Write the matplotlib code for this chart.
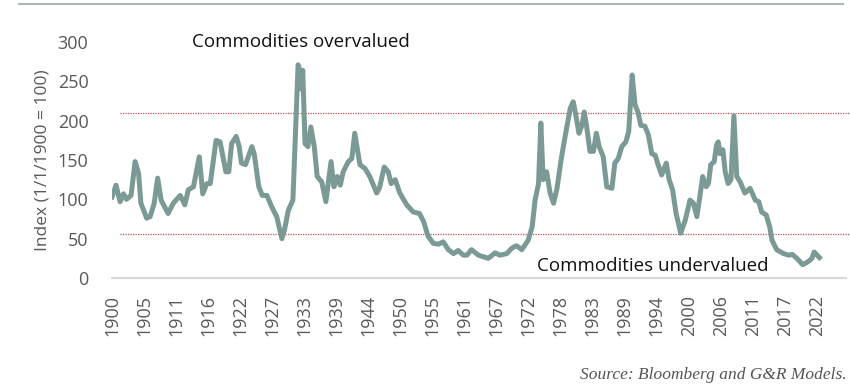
import matplotlib
matplotlib.use("Agg")
import matplotlib.pyplot as plt
from matplotlib.lines import Line2D

# Commodity index vs. 1/1/1900 = 100
years = [1900.0, 1900.7, 1901.4, 1902.0, 1902.5, 1903.3, 1904.0, 1904.6, 1905.0, 1906.0,
         1906.6, 1907.3, 1907.9, 1908.5, 1909.7, 1910.6, 1911.8, 1912.6, 1913.2, 1914.1,
         1915.1, 1915.7, 1916.4, 1917.0, 1918.0, 1918.7, 1919.7, 1920.2, 1920.7, 1921.5,
         1922.0, 1922.4, 1923.1, 1924.2, 1924.6, 1925.4, 1926.0, 1926.8, 1927.6, 1928.5,
         1929.4, 1929.9, 1930.5, 1931.3, 1931.7, 1932.2, 1932.6, 1932.8, 1933.0, 1933.4,
         1933.9, 1934.4, 1935.0, 1935.5, 1936.3, 1937.0, 1937.9, 1938.4, 1939.0, 1939.5,
         1940.0, 1940.9, 1941.5, 1942.0, 1942.9, 1943.8, 1944.6, 1945.8, 1946.3, 1947.1,
         1947.8, 1948.3, 1949.0, 1949.8, 1951.0, 1952.1, 1953.2, 1953.9, 1954.7, 1955.6,
         1956.5, 1957.3, 1958.2, 1959.1, 1959.9, 1960.8, 1961.4, 1962.2, 1963.4, 1965.1,
         1966.3, 1967.1, 1968.3, 1969.2, 1970.0, 1970.9, 1972.0, 1972.7, 1973.2, 1973.8,
         1974.2, 1974.6, 1975.2, 1975.8, 1976.4, 1977.0, 1977.7, 1978.4, 1979.3, 1979.8,
         1980.2, 1980.8, 1981.3, 1981.7, 1982.1, 1982.7, 1983.3, 1983.8, 1984.3, 1985.0,
         1985.6, 1986.5, 1987.0, 1987.6, 1988.2, 1988.9, 1989.4, 1990.0, 1990.5, 1991.0,
         1991.5, 1992.2, 1992.8, 1993.4, 1994.0, 1994.4, 1995.1, 1995.9, 1996.4, 1997.0,
         1997.6, 1998.4, 1999.2, 2000.0, 2000.6, 2001.2, 2001.7, 2002.2, 2002.8, 2003.2,
         2003.6, 2004.2, 2004.6, 2004.9, 2005.2, 2005.7, 2006.1, 2006.6, 2007.1, 2007.6,
         2008.1, 2008.7, 2009.5, 2010.4, 2011.3, 2011.9, 2012.4, 2013.2, 2013.8, 2014.2,
         2015.0, 2016.2, 2017.1, 2017.7, 2018.5, 2019.5, 2020.5, 2021.1, 2021.5, 2022.4]
index = [103, 118, 97, 107, 100, 105, 148, 133, 95, 76,
         78, 95, 127, 99, 82, 95, 105, 93, 112, 116,
         154, 107, 120, 120, 175, 173, 135, 135, 171, 180,
         167, 146, 144, 167, 158, 116, 105, 105, 91, 78,
         50, 63, 86, 99, 175, 271, 262, 240, 264, 171,
         167, 192, 167, 129, 122, 97, 148, 116, 129, 118,
         135, 148, 152, 184, 144, 139, 129, 108, 115, 141,
         135, 120, 125, 108, 93, 84, 82, 72, 53, 44,
         43, 46, 36, 31, 35, 29, 29, 36, 29, 25,
         32, 29, 31, 38, 41, 36, 48, 65, 99, 120,
         197, 125, 135, 108, 95, 114, 150, 180, 216, 224,
         209, 184, 194, 211, 194, 161, 161, 184, 167, 154,
         116, 114, 146, 152, 167, 173, 186, 258, 220, 211,
         194, 193, 182, 158, 156, 146, 131, 146, 125, 112,
         82, 57, 74, 99, 95, 78, 103, 129, 116, 120,
         144, 148, 169, 173, 158, 163, 135, 120, 125, 206,
         129, 122, 108, 114, 99, 97, 84, 80, 65, 48,
         36, 31, 29, 30, 25, 17, 21, 25, 33, 26]

tick_labels = ["1900", "1905", "1911", "1916", "1922", "1927", "1933", "1939", "1944",
               "1950", "1955", "1961", "1967", "1972", "1978", "1983", "1989", "1994",
               "2000", "2006", "2011", "2017", "2022"]
overvalued_level = 210
undervalued_level = 56

plt.rcParams["font.family"] = ["Open Sans", "DejaVu Sans"]

fig = plt.figure(figsize=(8.5, 3.91), dpi=100)
ax = fig.add_axes([112 / 850, 1 - 278 / 391, (846 - 112) / 850, (278 - 42) / 391])

# red dotted guide lines
ax.axhline(overvalued_level, xmin=0.011, xmax=1.01, color="#c0504d", lw=0.9,
           ls=(0, (1, 1)), clip_on=False, zorder=1)
ax.axhline(undervalued_level, xmin=0.011, xmax=1.01, color="#c0504d", lw=0.9,
           ls=(0, (1, 1)), clip_on=False, zorder=1)

ax.plot(years, index, color="#7b9a95", lw=3.6, solid_joinstyle="round", zorder=3)

ax.set_xlim(1900, 2027)
ax.set_ylim(0, 300)
step = (2022 - 1900) / (len(tick_labels) - 1)
ax.set_xticks([1900 + i * step for i in range(len(tick_labels))])
ax.set_xticklabels(tick_labels, rotation=90)
ax.set_yticks(range(0, 301, 50))

for s in ["top", "right", "left"]:
    ax.spines[s].set_visible(False)
ax.spines["bottom"].set_color("#d9d9d9")
ax.spines["bottom"].set_linewidth(1.5)
ax.tick_params(axis="both", length=0, colors="#595959", labelsize=13)
ax.tick_params(axis="x", pad=12, labelsize=13)
ax.tick_params(axis="y", pad=17)

ax.set_ylabel("Index (1/1/1900 = 100)", fontsize=12.5, color="#595959", labelpad=5)

ax.text(1932.6, 300, "Commodities overvalued", fontsize=13.5, color="#111111",
        ha="center", va="center")
ax.text(1993.5, 15, "Commodities undervalued", fontsize=13.5, color="#111111",
        ha="center", va="center")

# rule across the top
fig.add_artist(Line2D([19 / 850, 843 / 850], [1 - 4 / 391, 1 - 4 / 391],
                      color="#a9bab6", lw=1.5))

fig.text(847 / 850, 1 - 375 / 391, "Source: Bloomberg and G&R Models.",
         fontsize=12.5, style="italic", family="Liberation Serif", color="#555555",
         ha="right", va="center")

fig.savefig("out.png", dpi=100)
